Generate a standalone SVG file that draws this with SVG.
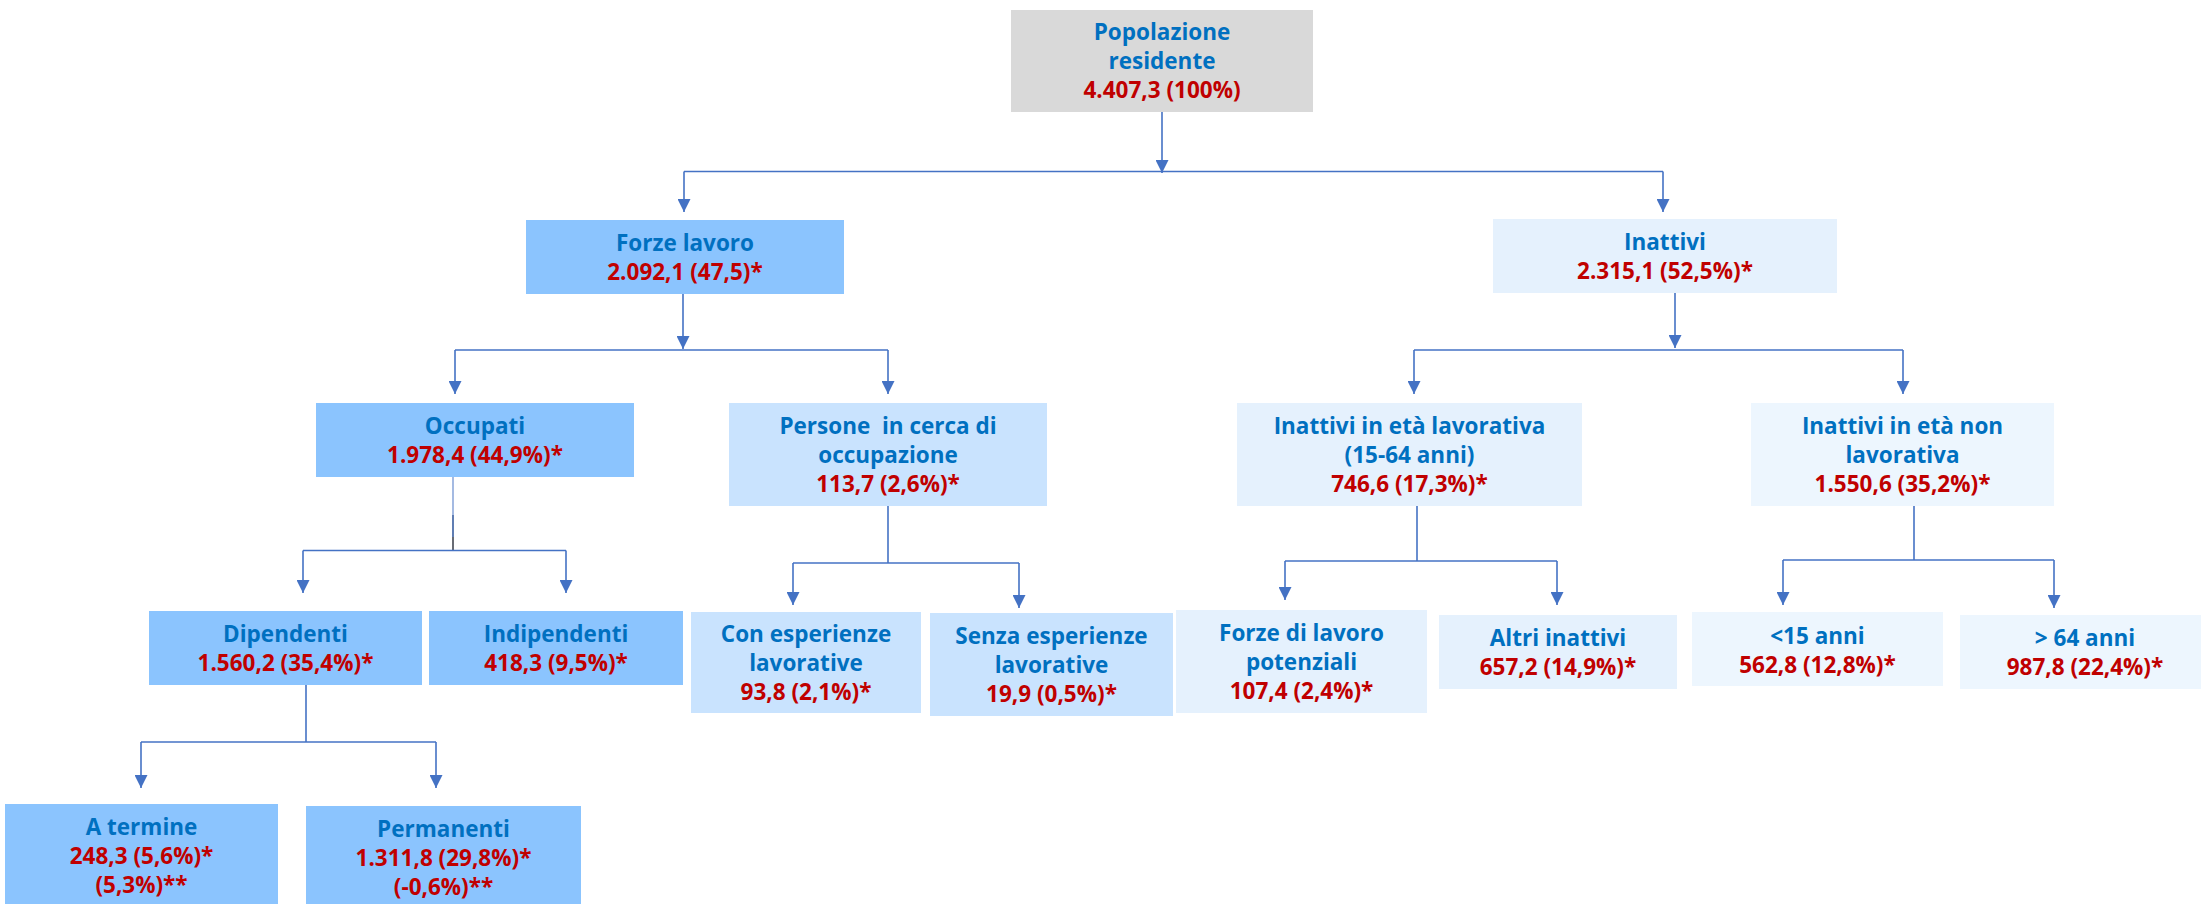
<svg xmlns="http://www.w3.org/2000/svg" width="2201" height="904" viewBox="0 0 2201 904">
<defs>
<style>
text{font-family:"Open Sans","Noto Sans","Liberation Sans",sans-serif;font-weight:700;font-size:22.5px;text-anchor:middle}
.b{fill:#0070C0}
.r{fill:#C00000}
.g{fill:#D9D9D9}
.m{fill:#8BC4FE}
.l{fill:#C9E3FE}
.x{fill:#E5F1FD}
.y{fill:#EDF6FE}
.c{fill:none;stroke:#4472C4;stroke-width:1.6}
.a{fill:none;stroke:#4472C4;stroke-width:1.6;marker-end:url(#ah)}
</style>
<marker id="ah" markerUnits="userSpaceOnUse" markerWidth="13" markerHeight="13" refX="13" refY="6.5" orient="auto" viewBox="0 0 13 13">
<path d="M0,0 L13,6.5 L0,13 z" fill="#4472C4"/>
</marker>
</defs>

<g id="connectors">
<path class="a" d="M1162,112 V173"/>
<path class="c" d="M684,171.5 H1663"/>
<path class="a" d="M684,171.5 V212"/>
<path class="a" d="M1663,171.5 V212"/>

<path class="a" d="M683,294 V349"/>
<path class="c" d="M455,350 H888"/>
<path class="a" d="M455,350 V394"/>
<path class="a" d="M888,350 V394"/>

<path class="a" d="M1675,293 V348"/>
<path class="c" d="M1414,350 H1903"/>
<path class="a" d="M1414,350 V394"/>
<path class="a" d="M1903,350 V394"/>

<path d="M453,477 V550" fill="none" stroke="#8EA9DB" stroke-width="1.6"/>
<path d="M453,515 V537" fill="none" stroke="#4F6FA8" stroke-width="1.6"/>
<path d="M453,537 V550" fill="none" stroke="#595959" stroke-width="1.6"/>
<path class="c" d="M303,550.5 H566"/>
<path class="a" d="M303,550.5 V593"/>
<path class="a" d="M566,550.5 V593"/>

<path class="c" d="M888,506 V563"/>
<path class="c" d="M793,563 H1019"/>
<path class="a" d="M793,563 V605"/>
<path class="a" d="M1019,563 V608"/>

<path class="c" d="M1417,506 V561"/>
<path class="c" d="M1285,561 H1557"/>
<path class="a" d="M1285,561 V600"/>
<path class="a" d="M1557,561 V605"/>

<path class="c" d="M1914,506 V560"/>
<path class="c" d="M1783,560 H2054"/>
<path class="a" d="M1783,560 V605"/>
<path class="a" d="M2054,560 V608"/>

<path class="c" d="M306,685 V742"/>
<path class="c" d="M141,742 H436"/>
<path class="a" d="M141,742 V788"/>
<path class="a" d="M436,742 V788"/>
</g>

<g id="popolazione">
<rect class="g" x="1011" y="10" width="302" height="102"/>
<text x="1162" y="40" class="b">Popolazione</text>
<text x="1162" y="69" class="b">residente</text>
<text x="1162" y="98" class="r">4.407,3 (100%)</text>
</g>

<g id="forze-lavoro">
<rect class="m" x="526" y="220" width="318" height="74"/>
<text x="685" y="250.5" class="b">Forze lavoro</text>
<text x="685" y="279.5" class="r">2.092,1 (47,5)*</text>
</g>

<g id="inattivi">
<rect class="x" x="1493" y="219" width="344" height="74"/>
<text x="1665" y="249.5" class="b">Inattivi</text>
<text x="1665" y="278.5" class="r">2.315,1 (52,5%)*</text>
</g>

<g id="occupati">
<rect class="m" x="316" y="403" width="318" height="74"/>
<text x="475" y="433.5" class="b">Occupati</text>
<text x="475" y="462.5" class="r">1.978,4 (44,9%)*</text>
</g>

<g id="persone">
<rect class="l" x="729" y="403" width="318" height="103"/>
<text x="888" y="433.5" class="b" xml:space="preserve">Persone  in cerca di</text>
<text x="888" y="462.5" class="b">occupazione</text>
<text x="888" y="491.5" class="r">113,7 (2,6%)*</text>
</g>

<g id="inattivi-eta-lavorativa">
<rect class="x" x="1237" y="403" width="345" height="103"/>
<text x="1409.5" y="433.5" class="b">Inattivi in età lavorativa</text>
<text x="1409.5" y="462.5" class="b">(15-64 anni)</text>
<text x="1409.5" y="491.5" class="r">746,6 (17,3%)*</text>
</g>

<g id="inattivi-eta-non-lavorativa">
<rect class="y" x="1751" y="403" width="303" height="103"/>
<text x="1902.5" y="433.5" class="b">Inattivi in età non</text>
<text x="1902.5" y="462.5" class="b">lavorativa</text>
<text x="1902.5" y="491.5" class="r">1.550,6 (35,2%)*</text>
</g>

<g id="dipendenti">
<rect class="m" x="149" y="611" width="273" height="74"/>
<text x="285.5" y="641.5" class="b">Dipendenti</text>
<text x="285.5" y="670.5" class="r">1.560,2 (35,4%)*</text>
</g>

<g id="indipendenti">
<rect class="m" x="429" y="611" width="254" height="74"/>
<text x="556" y="641.5" class="b">Indipendenti</text>
<text x="556" y="670.5" class="r">418,3 (9,5%)*</text>
</g>

<g id="con-esperienze">
<rect class="l" x="691" y="612" width="230" height="101"/>
<text x="806" y="642" class="b">Con esperienze</text>
<text x="806" y="671" class="b">lavorative</text>
<text x="806" y="700" class="r">93,8 (2,1%)*</text>
</g>

<g id="senza-esperienze">
<rect class="l" x="930" y="613" width="243" height="103"/>
<text x="1051.5" y="644" class="b">Senza esperienze</text>
<text x="1051.5" y="673" class="b">lavorative</text>
<text x="1051.5" y="702" class="r">19,9 (0,5%)*</text>
</g>

<g id="forze-lavoro-potenziali">
<rect class="x" x="1176" y="610" width="251" height="103"/>
<text x="1301.5" y="641" class="b">Forze di lavoro</text>
<text x="1301.5" y="670" class="b">potenziali</text>
<text x="1301.5" y="699" class="r">107,4 (2,4%)*</text>
</g>

<g id="altri-inattivi">
<rect class="x" x="1439" y="615" width="238" height="74"/>
<text x="1558" y="645.5" class="b">Altri inattivi</text>
<text x="1558" y="674.5" class="r">657,2 (14,9%)*</text>
</g>

<g id="meno-15">
<rect class="y" x="1692" y="612" width="251" height="74"/>
<text x="1817.5" y="643.5" class="b">&lt;15 anni</text>
<text x="1817.5" y="672.5" class="r">562,8 (12,8%)*</text>
</g>

<g id="oltre-64">
<rect class="y" x="1960" y="615" width="250" height="74"/>
<text x="2085" y="645.5" class="b">&gt; 64 anni</text>
<text x="2085" y="674.5" class="r">987,8 (22,4%)*</text>
</g>

<g id="a-termine">
<rect class="m" x="5" y="804" width="273" height="104"/>
<text x="141.5" y="835" class="b">A termine</text>
<text x="141.5" y="864" class="r">248,3 (5,6%)*</text>
<text x="141.5" y="893" class="r">(5,3%)**</text>
</g>

<g id="permanenti">
<rect class="m" x="306" y="806" width="275" height="104"/>
<text x="443.5" y="837" class="b">Permanenti</text>
<text x="443.5" y="866" class="r">1.311,8 (29,8%)*</text>
<text x="443.5" y="895" class="r">(-0,6%)**</text>
</g>
</svg>
